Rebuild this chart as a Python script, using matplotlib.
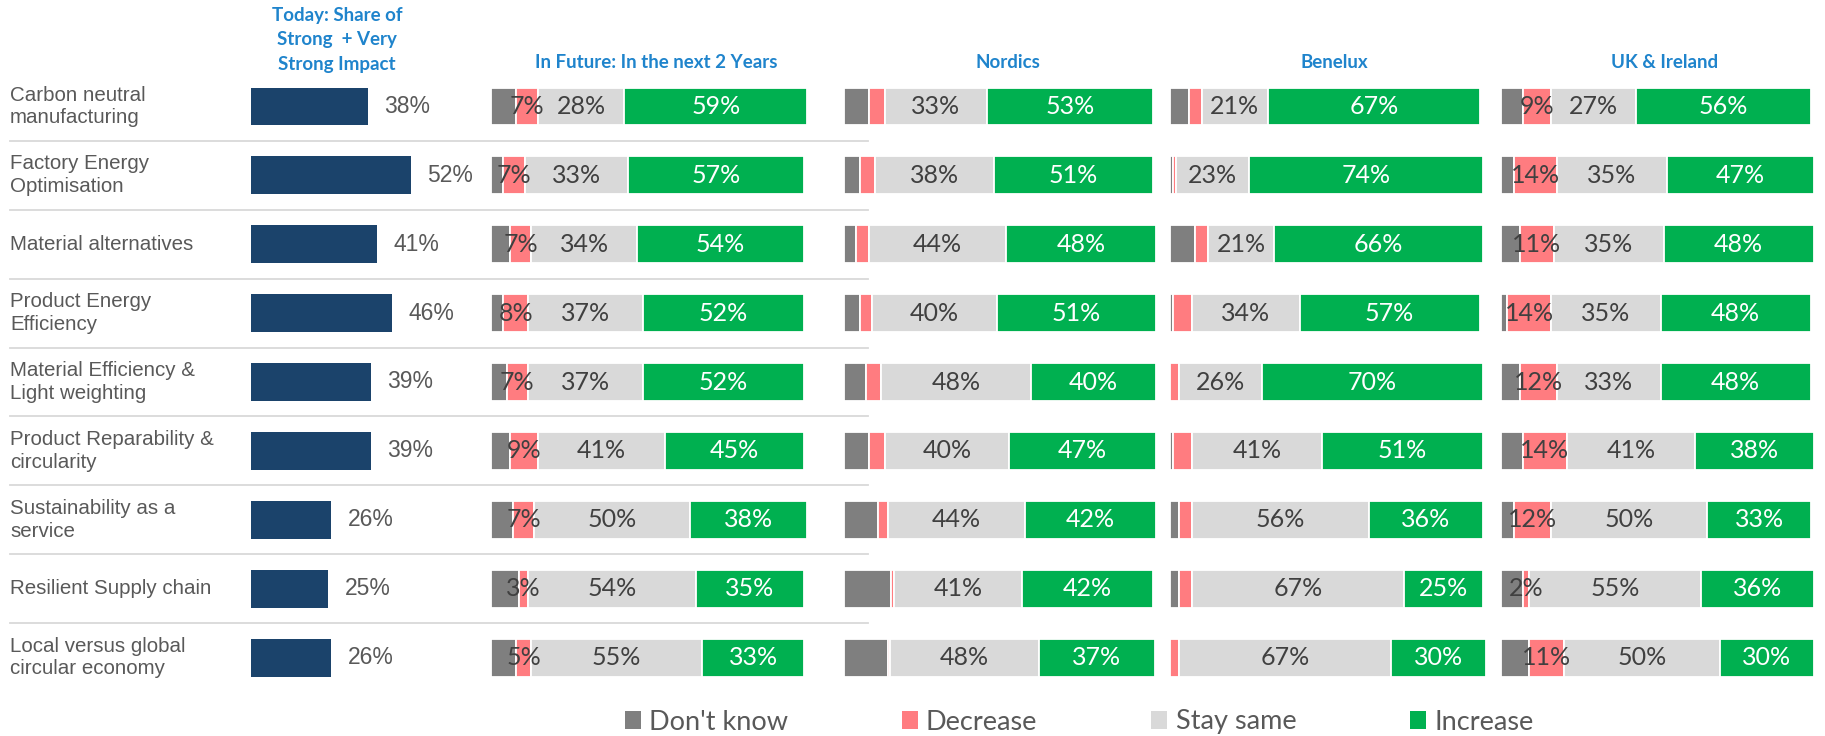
import matplotlib
matplotlib.use("Agg")
import matplotlib.pyplot as plt
from matplotlib.lines import Line2D
from matplotlib.patches import Patch

# ---------------- data ----------------
categories = ["Carbon neutral\nmanufacturing", "Factory Energy\nOptimisation",
              "Material alternatives", "Product Energy\nEfficiency",
              "Material Efficiency &\nLight weighting", "Product Reparability &\ncircularity",
              "Sustainability as a\nservice", "Resilient Supply chain",
              "Local versus global\ncircular economy"]

today = [38, 52, 41, 46, 39, 39, 26, 25, 26]

future_dk = [8, 4, 6, 4, 5, 6, 7, 9, 8]
future_dec = [7, 7, 7, 8, 7, 9, 7, 3, 5]
future_stay = [28, 33, 34, 37, 37, 41, 50, 54, 55]
future_inc = [59, 57, 54, 52, 52, 45, 38, 35, 33]

nordics_dk = [8, 5, 4, 5, 7, 8, 11, 15, 14]
nordics_dec = [5, 5, 4, 4, 5, 5, 3, 1, 0.6]
nordics_stay = [33, 38, 44, 40, 48, 40, 44, 41, 48]
nordics_inc = [53, 51, 48, 51, 40, 47, 42, 42, 37]

benelux_dk = [6, 1, 8, 1, 0, 1, 3, 3, 0]
benelux_dec = [4, 1, 4, 6, 3, 6, 4, 4, 3]
benelux_stay = [21, 23, 21, 34, 26, 41, 56, 67, 67]
benelux_inc = [67, 74, 66, 57, 70, 51, 36, 25, 30]

uk_dk = [7, 4, 6, 2, 6, 7, 4, 7, 9]
uk_dec = [9, 14, 11, 14, 12, 14, 12, 2, 11]
uk_stay = [27, 35, 35, 35, 33, 41, 50, 55, 50]
uk_inc = [56, 47, 48, 48, 48, 38, 33, 36, 30]

series_names = ["Don't know", "Decrease", "Stay same", "Increase"]
today_title = "Today: Share of\nStrong  + Very\nStrong Impact"
panel_titles = ["In Future: In the next 2 Years", "Nordics", "Benelux", "UK & Ireland"]

# ---------------- style ----------------
C_DK, C_DEC, C_STAY, C_INC = "#7F7F7F", "#FF7C80", "#D9D9D9", "#00B050"
C_TODAY = "#1B436B"
C_TXT = "#595959"
C_LBL = "#404040"
C_HEAD = "#1F84CC"
LBL_FONT = ["Lato", "DejaVu Sans"]
ARIAL = ["Liberation Sans", "DejaVu Sans"]

W, H = 1825, 736
fig = plt.figure(figsize=(W / 100, H / 100), dpi=100)

def px_axes(x0, x1, y_top=72, y_bot=692):
    return fig.add_axes([x0 / W, 1 - y_bot / H, (x1 - x0) / W, (y_bot - y_top) / H])

def fx(x):
    return x / W

def fy(y):
    return 1 - y / H

n = len(categories)
ypos = list(range(n))
bar_h = 0.55

def clean(ax, xmax):
    ax.set_xlim(0, xmax)
    ax.set_ylim(n - 0.5, -0.5)
    ax.axis("off")

# ---------------- separator lines ----------------
for i in range(n - 1):
    yy = 72 + (i + 1) * (620 / n)
    fig.add_artist(Line2D([fx(10), fx(868)], [fy(yy), fy(yy)], color="#D9D9D9", lw=1.3))

# ---------------- category labels ----------------
for i, c in enumerate(categories):
    yy = 72 + (i + 0.5) * (620 / n)
    fig.text(fx(10), fy(yy), c, ha="left", va="center", fontsize=14.8, color=C_TXT,
             family=ARIAL, linespacing=1.25)

# ---------------- today bars ----------------
ax0 = px_axes(251, 251 + 3.07 * 60)
ax0.barh(ypos, today, height=bar_h, color=C_TODAY)
for y, v in zip(ypos, today):
    ax0.annotate(f"{v}%", (v, y), xytext=(12, 0), textcoords="offset points",
                 ha="left", va="center", fontsize=16.5, color=C_TXT, family=ARIAL)
clean(ax0, 60)
fig.text(fx(337), fy(40), today_title, ha="center", va="center", fontsize=13.5,
         fontweight="bold", color=C_HEAD, family=LBL_FONT, linespacing=1.55)

# ---------------- stacked panels ----------------
panels = [
    (491, 809, 102.5, future_dk, future_dec, future_stay, future_inc, True),
    (844, 1160, 101.3, nordics_dk, nordics_dec, nordics_stay, nordics_inc, False),
    (1170, 1486, 100.0, benelux_dk, benelux_dec, benelux_stay, benelux_inc, False),
    (1501, 1817, 101.0, uk_dk, uk_dec, uk_stay, uk_inc, True),
]

for (x0, x1, xmax, dk, dec, stay, inc, show_dec), title in zip(panels, panel_titles):
    ax = px_axes(x0, x1)
    left = [0] * n
    for vals, col in zip([dk, dec, stay, inc], [C_DK, C_DEC, C_STAY, C_INC]):
        ax.barh(ypos, vals, left=left, height=bar_h, color=col, edgecolor="white", linewidth=1.3)
        show = (col == C_DEC and show_dec) or col in (C_STAY, C_INC)
        if show:
            tcol = "white" if col == C_INC else C_LBL
            for y, l, v in zip(ypos, left, vals):
                ax.text(l + v / 2, y, f"{v}%", ha="center", va="center", fontsize=18,
                        color=tcol, family=LBL_FONT)
        left = [a + b for a, b in zip(left, vals)]
    clean(ax, xmax)
    fig.text(fx((x0 + x1) / 2 + 6), fy(62), title, ha="center", va="center", fontsize=13.5,
             fontweight="bold", color=C_HEAD, family=LBL_FONT)

# ---------------- legend ----------------
handles = [Patch(facecolor=c, edgecolor="none") for c in [C_DK, C_DEC, C_STAY, C_INC]]
leg = fig.legend(handles, series_names, loc="center", bbox_to_anchor=(fx(1079), fy(722)),
                 ncol=4, frameon=False, handlelength=0.6, handleheight=0.6, handletextpad=0.3,
                 columnspacing=4.2, prop={"family": LBL_FONT, "size": 19.5})
for t in leg.get_texts():
    t.set_color(C_TXT)

fig.savefig("out.png", dpi=100)
